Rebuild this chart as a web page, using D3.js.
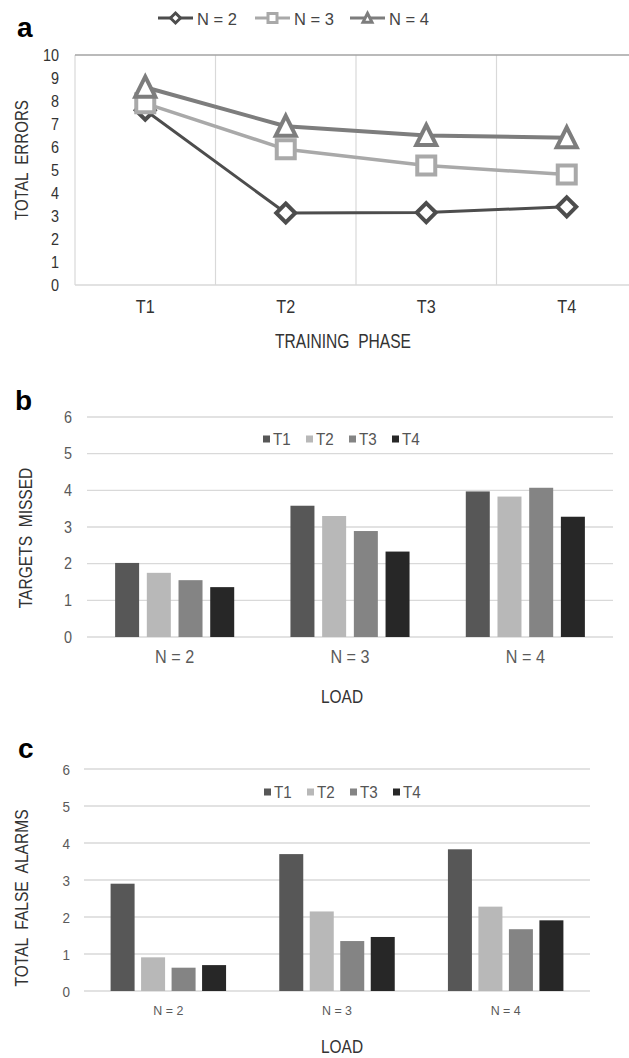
<!DOCTYPE html>
<html>
<head>
<meta charset="utf-8">
<script src="https://cdn.jsdelivr.net/npm/d3@7"></script>
<style>
  html, body { margin: 0; padding: 0; background: #fff; }
  svg { display: block; font-family: "Liberation Sans", Arial, sans-serif; }
  svg text { white-space: pre; }
</style>
</head>
<body>
<svg id="fig" width="629" height="1058"></svg>
<script>
// ---- data ----
const phases = ["T1", "T2", "T3", "T4"];
const loads = ["N = 2", "N = 3", "N = 4"];

// Panel a: total errors by training phase, one series per load
const errorsN2 = [7.6, 3.13, 3.15, 3.4];
const errorsN3 = [7.9, 5.9, 5.2, 4.8];
const errorsN4 = [8.6, 6.9, 6.5, 6.4];
const errorTicks = [0, 1, 2, 3, 4, 5, 6, 7, 8, 9, 10];

// Panel b: targets missed by load, one series per training phase
const missedT1 = [2.02, 3.58, 3.97];
const missedT2 = [1.75, 3.3, 3.83];
const missedT3 = [1.55, 2.89, 4.07];
const missedT4 = [1.36, 2.33, 3.28];

// Panel c: total false alarms by load, one series per training phase
const falseT1 = [2.9, 3.7, 3.83];
const falseT2 = [0.91, 2.15, 2.28];
const falseT3 = [0.63, 1.35, 1.67];
const falseT4 = [0.7, 1.46, 1.91];

const barTicks = [0, 1, 2, 3, 4, 5, 6];

// ---- styles ----
const lineSeries = [
  { name: "N = 2", values: errorsN2, color: "#4d4d4d", width: 3, shape: "diamond" },
  { name: "N = 3", values: errorsN3, color: "#a9a9a9", width: 3.5, shape: "square" },
  { name: "N = 4", values: errorsN4, color: "#7d7d7d", width: 4, shape: "triangle" }
];
const phaseColors = { T1: "#575757", T2: "#b8b8b8", T3: "#848484", T4: "#272727" };
const gridColor = "#d9d9d9";

const svg = d3.select("#fig");

// Text helper: optional horizontal squeeze and rotation
function label(g, str, x, y, o = {}) {
  const sx = o.squeeze || 1;
  const rot = o.rotate || 0;
  return g.append("text")
    .attr("transform", `translate(${x},${y}) rotate(${rot}) scale(${sx},1)`)
    .attr("text-anchor", o.anchor || "middle")
    .attr("font-size", o.size || 16)
    .attr("font-weight", o.weight || "normal")
    .attr("fill", o.fill || "#404040")
    .text(str);
}

function markerPath(shape, r) {
  if (shape === "diamond") return `M0,${-r}L${r},0L0,${r}L${-r},0Z`;
  if (shape === "square") return `M${-r},${-r}H${r}V${r}H${-r}Z`;
  // triangle, centred on its bounding box
  return `M0,${-r * 1.05}L${r},${r * 0.95}L${-r},${r * 0.95}Z`;
}

// ================= Panel a =================
{
  const g = svg.append("g");
  const x = d3.scaleBand().domain(phases).range([75, 637]).padding(0);
  const y = d3.scaleLinear().domain([0, 10]).range([285, 55]);
  const cx = d => x(d) + x.bandwidth() / 2;

  label(g, "a", 17, 37, { anchor: "start", size: 28, weight: "bold", fill: "#000" });

  // vertical category separators
  g.selectAll("line.vgrid").data(phases.slice(1)).enter().append("line")
    .attr("x1", d => x(d)).attr("x2", d => x(d))
    .attr("y1", y(10)).attr("y2", y(0))
    .attr("stroke", gridColor).attr("stroke-width", 1.2);
  // frame: left, bottom, top
  g.append("line").attr("x1", x.range()[0]).attr("x2", x.range()[0])
    .attr("y1", y(10)).attr("y2", y(0)).attr("stroke", gridColor).attr("stroke-width", 1.2);
  g.append("line").attr("x1", x.range()[0]).attr("x2", x.range()[1])
    .attr("y1", y(0)).attr("y2", y(0)).attr("stroke", gridColor).attr("stroke-width", 1.5);
  g.append("line").attr("x1", x.range()[0]).attr("x2", x.range()[1])
    .attr("y1", y(10)).attr("y2", y(10)).attr("stroke", "#a3a3a3").attr("stroke-width", 1.5);

  // y tick labels
  errorTicks.forEach(t => label(g, String(t), 59, y(t) + 5.5, { anchor: "end", size: 16, fill: "#333", squeeze: 0.9 }));
  // x tick labels
  phases.forEach(p => label(g, p, cx(p), 313, { size: 18, fill: "#333", squeeze: 0.9 }));

  label(g, "TOTAL  ERRORS", 28, 160, { rotate: -90, size: 18, fill: "#333", squeeze: 0.84 });
  label(g, "TRAINING  PHASE", 343, 348, { size: 19.5, fill: "#333", squeeze: 0.8 });

  const line = d3.line().x((v, i) => cx(phases[i])).y(v => y(v));
  lineSeries.forEach(s => {
    g.append("path").attr("d", line(s.values)).attr("fill", "none")
      .attr("stroke", s.color).attr("stroke-width", s.width).attr("stroke-linejoin", "round");
    const r = s.shape === "diamond" ? 9.5 : s.shape === "square" ? 9 : 10;
    g.selectAll(null).data(s.values).enter().append("path")
      .attr("transform", (v, i) => `translate(${cx(phases[i])},${y(v)})`)
      .attr("d", markerPath(s.shape, r))
      .attr("fill", "#fff").attr("stroke", s.color).attr("stroke-width", 4)
      .attr("stroke-linejoin", "miter");
  });

  // legend
  const legX = [158, 255, 350];
  lineSeries.forEach((s, i) => {
    const lg = g.append("g").attr("transform", `translate(${legX[i]},18)`);
    lg.append("line").attr("x1", 0).attr("x2", 35).attr("y1", 0).attr("y2", 0)
      .attr("stroke", s.color).attr("stroke-width", 3);
    lg.append("path").attr("transform", "translate(17.5,0)")
      .attr("d", markerPath(s.shape, s.shape === "diamond" ? 5 : 4.5))
      .attr("fill", "#fff").attr("stroke", s.color).attr("stroke-width", 3);
    label(lg, s.name, 39, 7, { anchor: "start", size: 16.5, fill: "#444" });
  });
}

// ================= Bar panels =================
function barPanel(opts) {
  const g = svg.append("g");
  const series = [
    { name: "T1", values: opts.data[0] },
    { name: "T2", values: opts.data[1] },
    { name: "T3", values: opts.data[2] },
    { name: "T4", values: opts.data[3] }
  ];
  const x0 = d3.scaleBand().domain(loads).range(opts.xr).padding(0);
  const x1 = d3.scaleBand().domain(phases).range([0, x0.bandwidth()])
    .paddingInner(opts.pi).paddingOuter(opts.po);
  const y = d3.scaleLinear().domain([0, 6]).range(opts.yr);

  label(g, opts.letter, opts.letterX, opts.letterY, { anchor: "start", size: 28, weight: "bold", fill: "#000" });

  g.selectAll("line.grid").data(barTicks).enter().append("line")
    .attr("x1", opts.xr[0]).attr("x2", opts.xr[1])
    .attr("y1", d => y(d)).attr("y2", d => y(d))
    .attr("stroke", gridColor).attr("stroke-width", 1.3);

  barTicks.forEach(t => label(g, String(t), opts.tickX, y(t) + 5.5, { anchor: "end", size: opts.tickSize, fill: "#5a5a5a", squeeze: 0.9 }));

  series.forEach(s => {
    g.selectAll(null).data(s.values).enter().append("rect")
      .attr("x", (v, i) => x0(loads[i]) + x1(s.name))
      .attr("width", x1.bandwidth())
      .attr("y", v => y(v))
      .attr("height", v => y(0) - y(v))
      .attr("fill", phaseColors[s.name]);
  });

  loads.forEach(l => label(g, l, x0(l) + x0.bandwidth() / 2, opts.catY,
    { size: opts.catSize, fill: "#5a5a5a", squeeze: opts.catSqueeze }));

  label(g, "LOAD", 342, opts.loadY, { size: 18, fill: "#333", squeeze: 0.86 });
  label(g, opts.yTitle, opts.yTitleX, opts.yTitleY, { rotate: -90, size: 19, fill: "#333", squeeze: 0.82 });

  // legend
  phases.forEach((p, i) => {
    const lx = opts.legX + i * 43;
    g.append("rect").attr("x", lx).attr("y", opts.legY - 3.5).attr("width", 7).attr("height", 7)
      .attr("fill", phaseColors[p]);
    label(g, p, lx + 10, opts.legY + 6, { anchor: "start", size: 16, fill: "#555", squeeze: 0.95 });
  });
}

barPanel({
  letter: "b", letterX: 15, letterY: 410,
  data: [missedT1, missedT2, missedT3, missedT4],
  xr: [87, 613], yr: [637, 417], pi: 0.243, po: 0.887,
  tickX: 72, tickSize: 16,
  catY: 663, catSize: 18, catSqueeze: 0.9,
  loadY: 703,
  yTitle: "TARGETS  MISSED", yTitleX: 32, yTitleY: 538,
  legX: 263, legY: 439
});

barPanel({
  letter: "c", letterX: 18, letterY: 758,
  data: [falseT1, falseT2, falseT3, falseT4],
  xr: [84, 590], yr: [991, 769], pi: 0.213, po: 0.872,
  tickX: 70, tickSize: 15,
  catY: 1015, catSize: 13.5, catSqueeze: 0.92,
  loadY: 1053,
  yTitle: "TOTAL  FALSE  ALARMS", yTitleX: 28, yTitleY: 898,
  legX: 264, legY: 792
});
</script>
</body>
</html>
